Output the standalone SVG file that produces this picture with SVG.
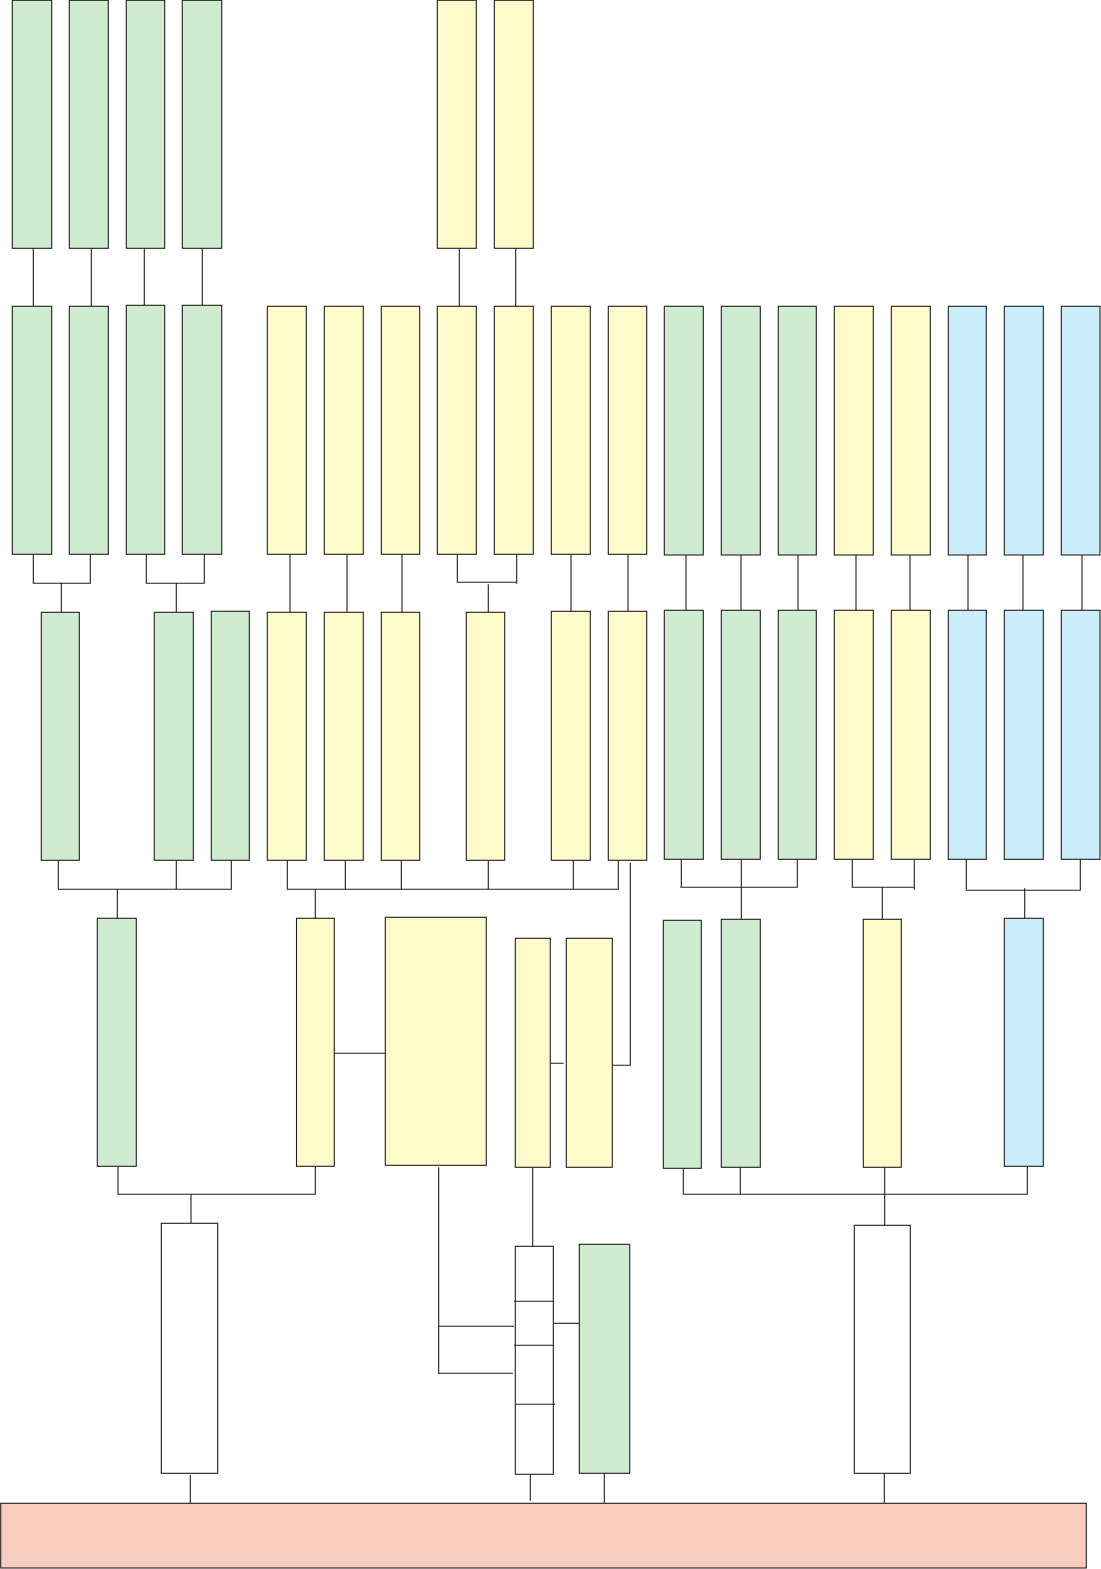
<svg xmlns="http://www.w3.org/2000/svg" width="1101" height="1569" viewBox="0 0 1101 1569">
<style>
rect{stroke:#231F20;stroke-width:1.1}
.g{fill:#CFEBD0}.y{fill:#FEFBCB}.b{fill:#CCEEFA}.w{fill:#FFFFFF}.s{fill:#F9CDBD}
#connectors path{fill:none;stroke:#231F20;stroke-width:1.1}
</style>
<g id="connectors">
<path d="M33.3 248V306M91.3 248V306M144.3 248V305M202.3 248V305"/>
<path d="M459.3 248V306M515.7 248V306"/>
<path d="M33.3 554V583.3H90.3V554M61.3 583.3V612.3"/>
<path d="M146.3 554V583.3H204.3V554M176.3 583.3V612.3"/>
<path d="M290 554V612M347 554V612M402 554V612M571 554V612M628 554V611"/>
<path d="M457.3 554V582.3H516.7M516.7 554V583.7M488.3 584.3V612.3"/>
<path d="M686 555V610M741 555V610M798 555V610M856 555V610M910 555V610M968 555V610M1023 555V610M1082 555V610"/>
<path d="M58.3 860V889.3H231.3V860M176.3 860V889.3M117.3 889.3V918.3"/>
<path d="M287.3 860V889.3H618.3V860M345.3 860V889.3M401.3 860V889.3M488.3 860V889.3M573.3 860V889.3M315.3 889.3V918.3"/>
<path d="M630.3 862.7V1065.3H611"/>
<path d="M681.3 859V887.3M680.3 887.3H797.3V859M741.3 859V919.3"/>
<path d="M852.3 859V887.3H914.3M914.3 859V889.7M882.3 887.3V919.3"/>
<path d="M966.3 859V890.3H1080.3V859M1024.7 888.3V918.3"/>
<path d="M334.3 1053.3H385.3M550.3 1063.3H563.7"/>
<path d="M118 1166V1194.3H315.3V1166M191 1194.3V1223.3"/>
<path d="M683.3 1168V1194.3H1027.3V1166M740.3 1167V1194.3M884.7 1167V1225.3"/>
<path d="M438.7 1167.3V1374.3M438.7 1326.3H514M438.7 1373.3H513"/>
<path d="M532.7 1167.3V1246.3"/>
<path d="M553.3 1323.3H579.3"/>
<path d="M190.3 1475V1503.3M530.3 1474V1500.7M604.3 1473V1503.3M884.3 1473V1503.3"/>
</g>
<g id="row1">
<g id="n1"><rect class="g" x="12.3" y="0.3" width="39.4" height="248"/></g>
<g id="n2"><rect class="g" x="69.3" y="0.3" width="39" height="248"/></g>
<g id="n3"><rect class="g" x="126.3" y="0.3" width="38.4" height="248"/></g>
<g id="n4"><rect class="g" x="182.3" y="0.3" width="39.4" height="248"/></g>
<g id="n5"><rect class="y" x="437.3" y="0.3" width="39" height="248"/></g>
<g id="n6"><rect class="y" x="494.3" y="0.3" width="39" height="248"/></g>
</g>
<g id="row2">
<g id="n7"><rect class="g" x="12.3" y="306.3" width="39.4" height="248"/></g>
<g id="n8"><rect class="g" x="69.3" y="306.3" width="39" height="248"/></g>
<g id="n9"><rect class="g" x="126.3" y="305.3" width="38.4" height="249"/></g>
<g id="n10"><rect class="g" x="182.3" y="305.3" width="39.4" height="249"/></g>
<g id="n11"><rect class="y" x="267.3" y="306.3" width="39" height="248"/></g>
<g id="n12"><rect class="y" x="324.3" y="306.3" width="39" height="248"/></g>
<g id="n13"><rect class="y" x="381.3" y="306.3" width="38.4" height="248"/></g>
<g id="n14"><rect class="y" x="437.3" y="306.3" width="39" height="248"/></g>
<g id="n15"><rect class="y" x="494.3" y="306.3" width="39" height="248"/></g>
<g id="n16"><rect class="y" x="551.3" y="306.3" width="39" height="248"/></g>
<g id="n17"><rect class="y" x="608.3" y="306.3" width="38.4" height="248"/></g>
<g id="n18"><rect class="g" x="664.3" y="306.3" width="39" height="248.7"/></g>
<g id="n19"><rect class="g" x="721.3" y="306.3" width="39" height="248.7"/></g>
<g id="n20"><rect class="g" x="778.3" y="306.3" width="38" height="248.7"/></g>
<g id="n21"><rect class="y" x="834.3" y="306.3" width="39" height="248.7"/></g>
<g id="n22"><rect class="y" x="891.3" y="306.3" width="39" height="248.7"/></g>
<g id="n23"><rect class="b" x="948.3" y="306.3" width="38" height="248.7"/></g>
<g id="n24"><rect class="b" x="1004.3" y="306.3" width="39" height="248.7"/></g>
<g id="n25"><rect class="b" x="1061.3" y="306.3" width="38.7" height="248.7"/></g>
</g>
<g id="row3">
<g id="n26"><rect class="g" x="41.3" y="612.3" width="38" height="248"/></g>
<g id="n27"><rect class="g" x="154.3" y="612.3" width="39" height="248"/></g>
<g id="n28"><rect class="g" x="211.3" y="611.3" width="38" height="249"/></g>
<g id="n29"><rect class="y" x="267.3" y="612.3" width="39" height="248"/></g>
<g id="n30"><rect class="y" x="324.3" y="612.3" width="39" height="248"/></g>
<g id="n31"><rect class="y" x="381.3" y="612.3" width="38.4" height="248"/></g>
<g id="n32"><rect class="y" x="466.3" y="612.3" width="38.4" height="248"/></g>
<g id="n33"><rect class="y" x="551.3" y="611.3" width="39" height="249"/></g>
<g id="n34"><rect class="y" x="608.3" y="611.3" width="38.4" height="249"/></g>
<g id="n35"><rect class="g" x="664.3" y="610.3" width="39" height="249"/></g>
<g id="n36"><rect class="g" x="721.3" y="610.3" width="39" height="249"/></g>
<g id="n37"><rect class="g" x="778.3" y="610.3" width="38" height="249"/></g>
<g id="n38"><rect class="y" x="834.3" y="610.3" width="39" height="249"/></g>
<g id="n39"><rect class="y" x="891.3" y="610.3" width="39" height="249"/></g>
<g id="n40"><rect class="b" x="948.3" y="610.3" width="38" height="249"/></g>
<g id="n41"><rect class="b" x="1004.3" y="610.3" width="39" height="249"/></g>
<g id="n42"><rect class="b" x="1061.3" y="610.3" width="38.7" height="249"/></g>
</g>
<g id="row4">
<g id="n43"><rect class="g" x="97.3" y="918.3" width="39" height="248"/></g>
<g id="n44"><rect class="y" x="296.5" y="918.3" width="37.8" height="248"/></g>
<g id="n45"><rect class="y" x="385.3" y="917.3" width="101" height="248"/></g>
<g id="n46"><rect class="y" x="515.3" y="938.3" width="35" height="229"/></g>
<g id="n47"><rect class="y" x="566.3" y="938.3" width="46" height="229"/></g>
<g id="n48"><rect class="g" x="663.3" y="920.3" width="38" height="248"/></g>
<g id="n49"><rect class="g" x="721.3" y="919.3" width="39" height="248"/></g>
<g id="n50"><rect class="y" x="863.3" y="919.3" width="38" height="248"/></g>
<g id="n51"><rect class="b" x="1004.3" y="918.3" width="39" height="248"/></g>
</g>
<g id="row5">
<g id="n52"><rect class="w" x="161.3" y="1223.3" width="56.4" height="250"/></g>
<g id="n53"><rect class="w" x="515.3" y="1246.3" width="38" height="228"/>
<path d="M514 1301.3H553.3M514 1345.3H553.3M515.3 1404.3H555" fill="none" stroke="#231F20" stroke-width="1.1"/></g>
<g id="n54"><rect class="g" x="579.3" y="1244.3" width="50.4" height="229"/></g>
<g id="n55"><rect class="w" x="854.3" y="1225.3" width="56" height="248"/></g>
</g>
<g id="n56"><rect class="s" x="0.7" y="1503.3" width="1085.6" height="64.7"/></g>
</svg>
